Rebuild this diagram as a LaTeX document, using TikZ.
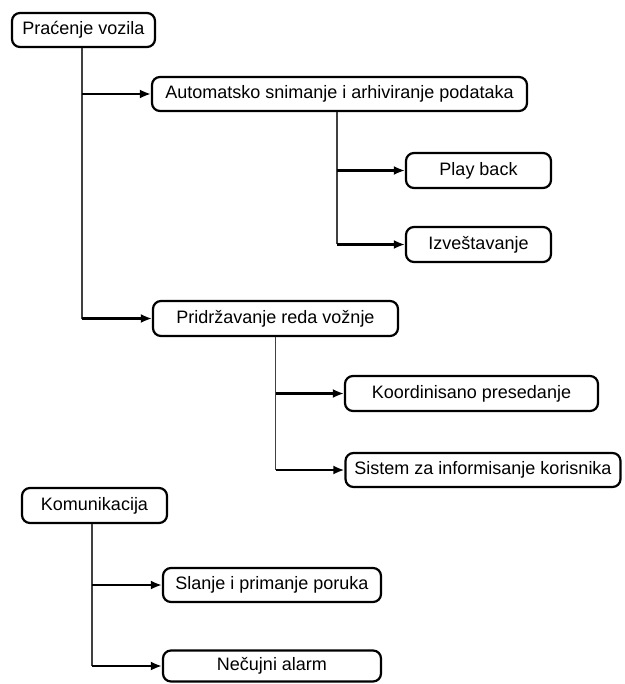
\documentclass[tikz,border=0pt]{standalone}
\usepackage{fontspec}
\setmainfont{Liberation Sans}
\usetikzlibrary{arrows.meta}
\begin{document}
\begin{tikzpicture}[x=1pt,y=-1pt,
  box/.style={draw=black, line width=2.2pt, rounded corners=8pt, inner sep=0pt,
    font=\fontsize{18}{20}\selectfont, text=black, anchor=center},
  trunk/.style={draw=black!75, line width=1.1pt},
  link/.style={draw=black, line width=2.2pt, -{Latex[length=11pt,width=9pt]}}]
\useasboundingbox (0,0) rectangle (624,684);
\node[box, minimum width=143, minimum height=34] (pr) at (83.5,30) {Praćenje vozila};
\node[box, minimum width=375, minimum height=34] (au) at (339.5,94) {Automatsko snimanje i arhiviranje podataka};
\node[box, minimum width=145, minimum height=35] (pb) at (478.5,170.5) {Play back};
\node[box, minimum width=145, minimum height=35] (iz) at (478.5,244.5) {Izveštavanje};
\node[box, minimum width=245, minimum height=35] (pd) at (275.5,318.5) {Pridržavanje reda vožnje};
\node[box, minimum width=253, minimum height=35] (ko) at (471.5,393.5) {Koordinisano presedanje};
\node[box, minimum width=275, minimum height=34] (si) at (483,470) {Sistem za informisanje korisnika};
\node[box, minimum width=145, minimum height=35] (km) at (94.5,505.5) {Komunikacija};
\node[box, minimum width=218, minimum height=34] (sl) at (272,585) {Slanje i primanje poruka};
\node[box, minimum width=218, minimum height=31] (ne) at (272,666) {Nečujni alarm};
% trunks
\coordinate (t1) at ([xshift=-1.5pt]pr.south);
\coordinate (t2) at ([xshift=-2.5pt]au.south);
\coordinate (t3) at (pd.south);
\coordinate (t4) at ([xshift=-2.5pt]km.south);
\draw[trunk] (t1) -- (t1 |- pd.west);
\draw[trunk] (t2) -- (t2 |- iz.west);
\draw[trunk] (t3) -- (t3 |- si.west);
\draw[trunk] (t4) -- (t4 |- ne.west);
% branches
\draw[link] (t1 |- au.west) -- (au.west);
\draw[link] (t1 |- pd.west) -- (pd.west);
\draw[link] (t2 |- pb.west) -- (pb.west);
\draw[link] (t2 |- iz.west) -- (iz.west);
\draw[link] (t3 |- ko.west) -- (ko.west);
\draw[link] (t3 |- si.west) -- (si.west);
\draw[link] (t4 |- sl.west) -- (sl.west);
\draw[link] (t4 |- ne.west) -- (ne.west);
\end{tikzpicture}
\end{document}
